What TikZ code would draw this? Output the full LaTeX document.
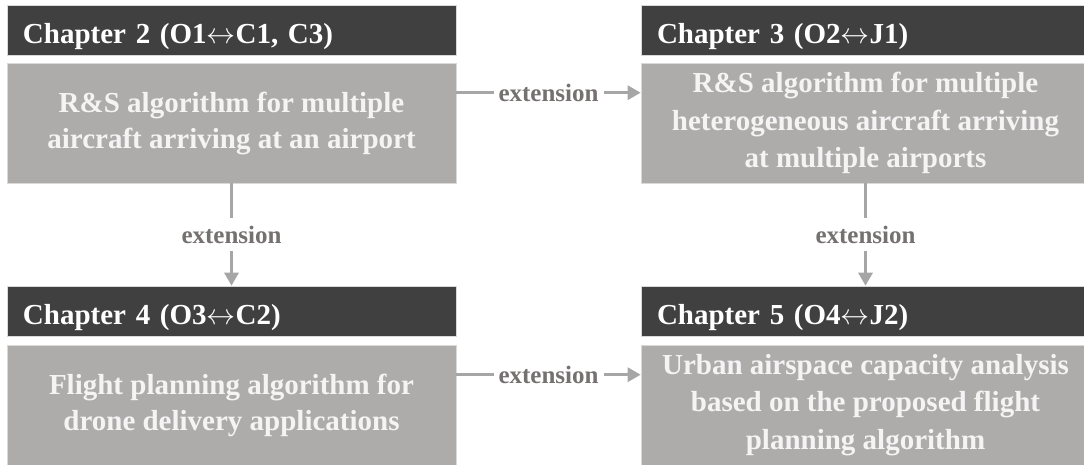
\RequirePackage{fix-cm}
\documentclass[tikz,border=0pt]{standalone}
\usepackage{fontspec}
\setmainfont{Liberation Serif}
\usetikzlibrary{arrows.meta}
\definecolor{hdr}{HTML}{404040}
\definecolor{bdy}{HTML}{AEABAB}
\definecolor{bdytxt}{HTML}{F4F4F4}
\definecolor{arrc}{HTML}{A6A6A6}
\definecolor{lblc}{HTML}{767171}
\definecolor{edge}{HTML}{D9D9D9}
\newcommand{\lrar}{$\mathord{\leftrightarrow}$}
\tikzset{
  hdrbox/.style={fill=hdr, draw=edge, line width=0.6pt, minimum width=449pt, minimum height=50pt,
    text width=417pt, align=left, inner xsep=16pt, inner ysep=0pt, text=white,
    text height=30pt, text depth=4pt,
    font=\bfseries\fontsize{29}{36}\selectfont},
  bodybox/.style={fill=bdy, draw=edge, line width=0.6pt, minimum width=449pt, minimum height=120pt,
    align=center, inner sep=0pt, text=bdytxt, font=\bfseries\fontsize{29}{36}\selectfont},
  bodybig/.style={bodybox, font=\bfseries\fontsize{29}{37.5}\selectfont},
  extarrow/.style={draw=arrc, line width=3pt, -{Triangle[length=13pt,width=14pt]}},
  extlabel/.style={fill=white, text=lblc, inner xsep=5pt, inner ysep=8pt,
    font=\bfseries\fontsize{25}{30}\selectfont}
}
\begin{document}
\begin{tikzpicture}[x=1pt, y=-1pt]
\useasboundingbox (0,0) rectangle (1084,464);
\node[hdrbox] (h2) at (231.5,30) {Chapter 2 (O1\lrar C1, C3)};
\node[bodybox] (b2) at (231.5,123) {R\&S algorithm for multiple\\aircraft arriving at an airport};
\node[hdrbox] (h3) at (865.5,30) {Chapter 3 (O2\lrar J1)};
\node[bodybig] (b3) at (865.5,123) {R\&S algorithm for multiple\\heterogeneous aircraft arriving\\at multiple airports};
\node[hdrbox] (h4) at (231.5,311) {Chapter 4 (O3\lrar C2)};
\node[bodybox] (b4) at (231.5,405) {Flight planning algorithm for\\drone delivery applications};
\node[hdrbox] (h5) at (865.5,311) {Chapter 5 (O4\lrar J2)};
\node[bodybig] (b5) at (865.5,405) {Urban airspace capacity analysis\\based on the proposed flight\\planning algorithm};
\draw[extarrow] ([yshift=-30pt]b2.north east) -- node[extlabel] {extension} ([yshift=-30pt]b3.north west);
\draw[extarrow] ([yshift=-30pt]b4.north east) -- node[extlabel] {extension} ([yshift=-30pt]b5.north west);
\draw[extarrow] (b2.south) -- node[extlabel] {extension} (h4.north);
\draw[extarrow] (b3.south) -- node[extlabel] {extension} (h5.north);
\end{tikzpicture}
\end{document}
